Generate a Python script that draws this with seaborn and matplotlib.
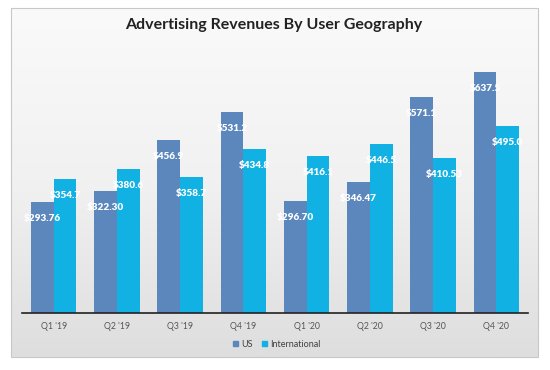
import numpy as np
import pandas as pd
import seaborn as sns
import matplotlib.pyplot as plt
from matplotlib.patches import Rectangle

# Data (USD millions)
quarters = ["Q1 '19", "Q2 '19", "Q3 '19", "Q4 '19", "Q1 '20", "Q2 '20", "Q3 '20", "Q4 '20"]
us = [293.76, 322.30, 456.9, 531.2, 296.70, 346.47, 571.1, 637.5]
intl = [354.7, 380.6, 358.7, 434.8, 416.1, 446.5, 410.53, 495.0]
us_labels = ["$293.76", "$322.30", "$456.9", "$531.2", "$296.70", "$346.47", "$571.1", "$637.5"]
intl_labels = ["$354.7", "$380.6", "$358.7", "$434.8", "$416.1", "$446.5", "$410.53", "$495.0"]
series = ["US", "International"]
colors = ["#5b87bd", "#12b1e3"]

df = pd.DataFrame({
    "quarter": quarters * 2,
    "value": us + intl,
    "geo": [series[0]] * len(us) + [series[1]] * len(intl),
    "label": us_labels + intl_labels,
})

sns.set_theme(style="white")
plt.rcParams["font.family"] = ["Lato", "DejaVu Sans"]

W, H = 550, 370
fig = plt.figure(figsize=(W / 100, H / 100), dpi=100)
fig.patch.set_facecolor("white")

# gray gradient panel behind the chart
px0, py0, px1, py1 = 11, 8, 538, 357
bg = fig.add_axes([px0 / W, 1 - py1 / H, (px1 - px0) / W, (py1 - py0) / H])
grad = np.linspace(0, 1, 256).reshape(-1, 1)
bg.imshow(grad, aspect="auto", cmap=sns.blend_palette(["#fafafa", "#f1f1f1", "#dedede"], as_cmap=True),
          extent=[0, 1, 0, 1], origin="upper")
bg.set_axis_off()
fig.add_artist(Rectangle((px0 / W, 1 - py1 / H), (px1 - px0) / W, (py1 - py0) / H,
                         transform=fig.transFigure, fill=False, edgecolor="#c8c8c8", lw=0.8))

# main axes
x0, x1, base, top = 22, 528, 312.7, 40
ax = fig.add_axes([x0 / W, 1 - base / H, (x1 - x0) / W, (base - top) / H])
ax.set_facecolor("none")
sns.barplot(data=df, x="quarter", y="value", hue="geo", palette=colors, width=0.72,
            saturation=1, ax=ax, legend=False, edgecolor="none")

ax.set_ylim(0, (base - top) / 0.377)
ax.set_xlim(-0.5, len(quarters) - 0.5)
ax.set_xlabel("")
ax.set_ylabel("")
ax.set_yticks([])
for s in ["top", "right", "left"]:
    ax.spines[s].set_visible(False)
ax.spines["bottom"].set_color("#222222")
ax.spines["bottom"].set_linewidth(1.2)
ax.tick_params(axis="x", length=0, pad=7, labelsize=6.3, labelcolor="#555555")

for cont, labs in zip(ax.containers, [us_labels, intl_labels]):
    ax.bar_label(cont, labels=labs, padding=-15, color="white", fontsize=7.2,
                 fontweight="heavy")

fig.text(0.497, 1 - 25 / H, "Advertising Revenues By User Geography", ha="center", va="center",
         fontsize=11.5, fontweight="bold", color="#222222")

handles = [Rectangle((0, 0), 1, 1, color=c) for c in colors]
fig.legend(handles, series, loc="center", bbox_to_anchor=(277 / W, 1 - 344.6 / H), ncol=2,
           frameon=False, fontsize=6.5, handlelength=0.5, handleheight=0.5, handletextpad=0.4,
           columnspacing=1.0, labelcolor="#404040")

fig.savefig("out.png", dpi=100)
